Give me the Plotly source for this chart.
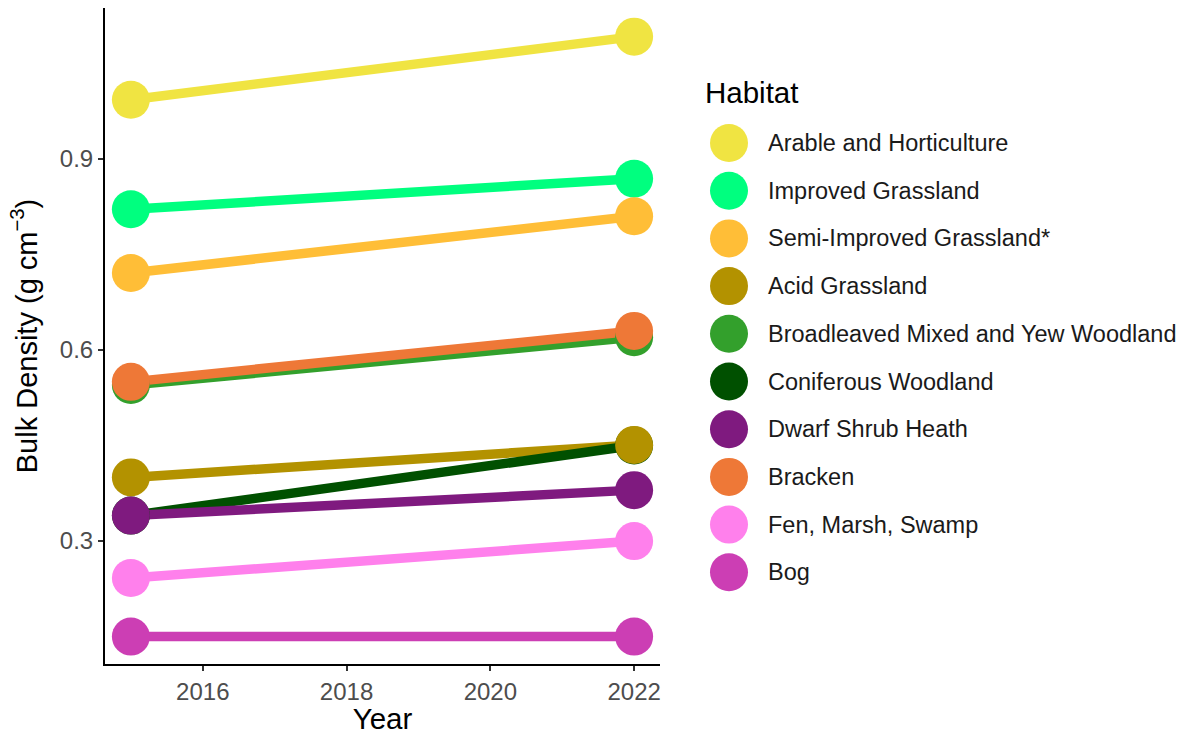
import plotly.graph_objects as go

# Soil bulk density by habitat, two survey years
years = [2015, 2022]
habitats = [
    "Arable and Horticulture",
    "Improved Grassland",
    "Semi-Improved Grassland*",
    "Acid Grassland",
    "Broadleaved Mixed and Yew Woodland",
    "Coniferous Woodland",
    "Dwarf Shrub Heath",
    "Bracken",
    "Fen, Marsh, Swamp",
    "Bog",
]
density_2015 = [0.993, 0.821, 0.721, 0.400, 0.545, 0.340, 0.340, 0.550, 0.242, 0.150]
density_2022 = [1.092, 0.869, 0.810, 0.451, 0.620, 0.450, 0.380, 0.630, 0.300, 0.150]
colours = [
    "#F0E442", "#00FF7F", "#FFBE37", "#B39200", "#33A02C",
    "#005000", "#7F1A7F", "#EE7837", "#FF80EC", "#CC3EB4",
]
y_ticks = [0.3, 0.6, 0.9]
x_ticks = [2016, 2018, 2020, 2022]

FONT = "Liberation Sans, Arial, sans-serif"
W, H = 1186, 735
# plot panel in pixels
PX0, PX1, PY0, PY1 = 105, 660, 8, 664

fig = go.Figure()

# lines first, in habitat order
for name, a, b, c in zip(habitats, density_2015, density_2022, colours):
    fig.add_trace(go.Scatter(
        x=years, y=[a, b], mode="lines", name=name,
        line=dict(color=c, width=9.5), showlegend=False, hoverinfo="skip",
    ))

# points on top; coniferous drawn first so overlapping points keep their look
order = [5] + [i for i in range(len(habitats)) if i != 5]
for i in order:
    fig.add_trace(go.Scatter(
        x=years, y=[density_2015[i], density_2022[i]], mode="markers",
        name=habitats[i], marker=dict(color=colours[i], size=38, line=dict(width=0)),
        showlegend=False,
    ))

# custom legend on a pixel-scaled overlay axis
LX0 = 688
row_y = [143 + k * 47.7 for k in range(len(habitats))]
fig.add_trace(go.Scatter(
    x=[729] * len(habitats), y=row_y, mode="markers",
    marker=dict(color=colours, size=38, line=dict(width=0)),
    xaxis="x2", yaxis="y2", showlegend=False, hoverinfo="skip",
))
annotations = [
    dict(x=766, y=yy, xref="x2", yref="y2", text=name, showarrow=False,
         xanchor="left", yanchor="middle", font=dict(size=23.5, color="#1A1A1A", family=FONT))
    for name, yy in zip(habitats, row_y)
]
annotations.append(dict(x=703, y=92, xref="x2", yref="y2", text="Habitat", showarrow=False,
                        xanchor="left", yanchor="middle",
                        font=dict(size=29.5, color="#000000", family=FONT)))

fig.update_layout(
    width=W, height=H,
    margin=dict(l=0, r=0, t=0, b=0),
    paper_bgcolor="white", plot_bgcolor="white",
    font=dict(family=FONT),
    showlegend=False,
    annotations=annotations,
    xaxis=dict(
        domain=[PX0 / W, PX1 / W], range=[2014.64, 2022.36],
        tickvals=x_ticks, ticktext=[str(t) for t in x_ticks],
        showgrid=False, zeroline=False,
        showline=True, linecolor="black", linewidth=2,
        ticks="outside", ticklen=5, tickwidth=2, tickcolor="#333333",
        tickfont=dict(size=24, color="#4D4D4D", family=FONT),
        title=dict(text="Year", font=dict(size=29.5, color="black", family=FONT), standoff=4),
        automargin=False, anchor="y",
    ),
    yaxis=dict(
        domain=[1 - PY1 / H, 1 - PY0 / H], range=[0.107, 1.137],
        tickvals=y_ticks, ticktext=[f"{t:.1f}" for t in y_ticks],
        showgrid=False, zeroline=False,
        showline=True, linecolor="black", linewidth=2,
        ticks="outside", ticklen=5, tickwidth=2, tickcolor="#333333",
        tickfont=dict(size=24, color="#4D4D4D", family=FONT),
        title=dict(text="Bulk Density (g cm<sup>\u22123</sup>)",
                   font=dict(size=29, color="black", family=FONT), standoff=14),
        automargin=False, anchor="x",
    ),
    xaxis2=dict(domain=[LX0 / W, 1], range=[LX0, W], visible=False, fixedrange=True, anchor="y2"),
    yaxis2=dict(domain=[0, 1], range=[H, 0], visible=False, fixedrange=True, anchor="x2"),
)

fig.write_html("out.html")
